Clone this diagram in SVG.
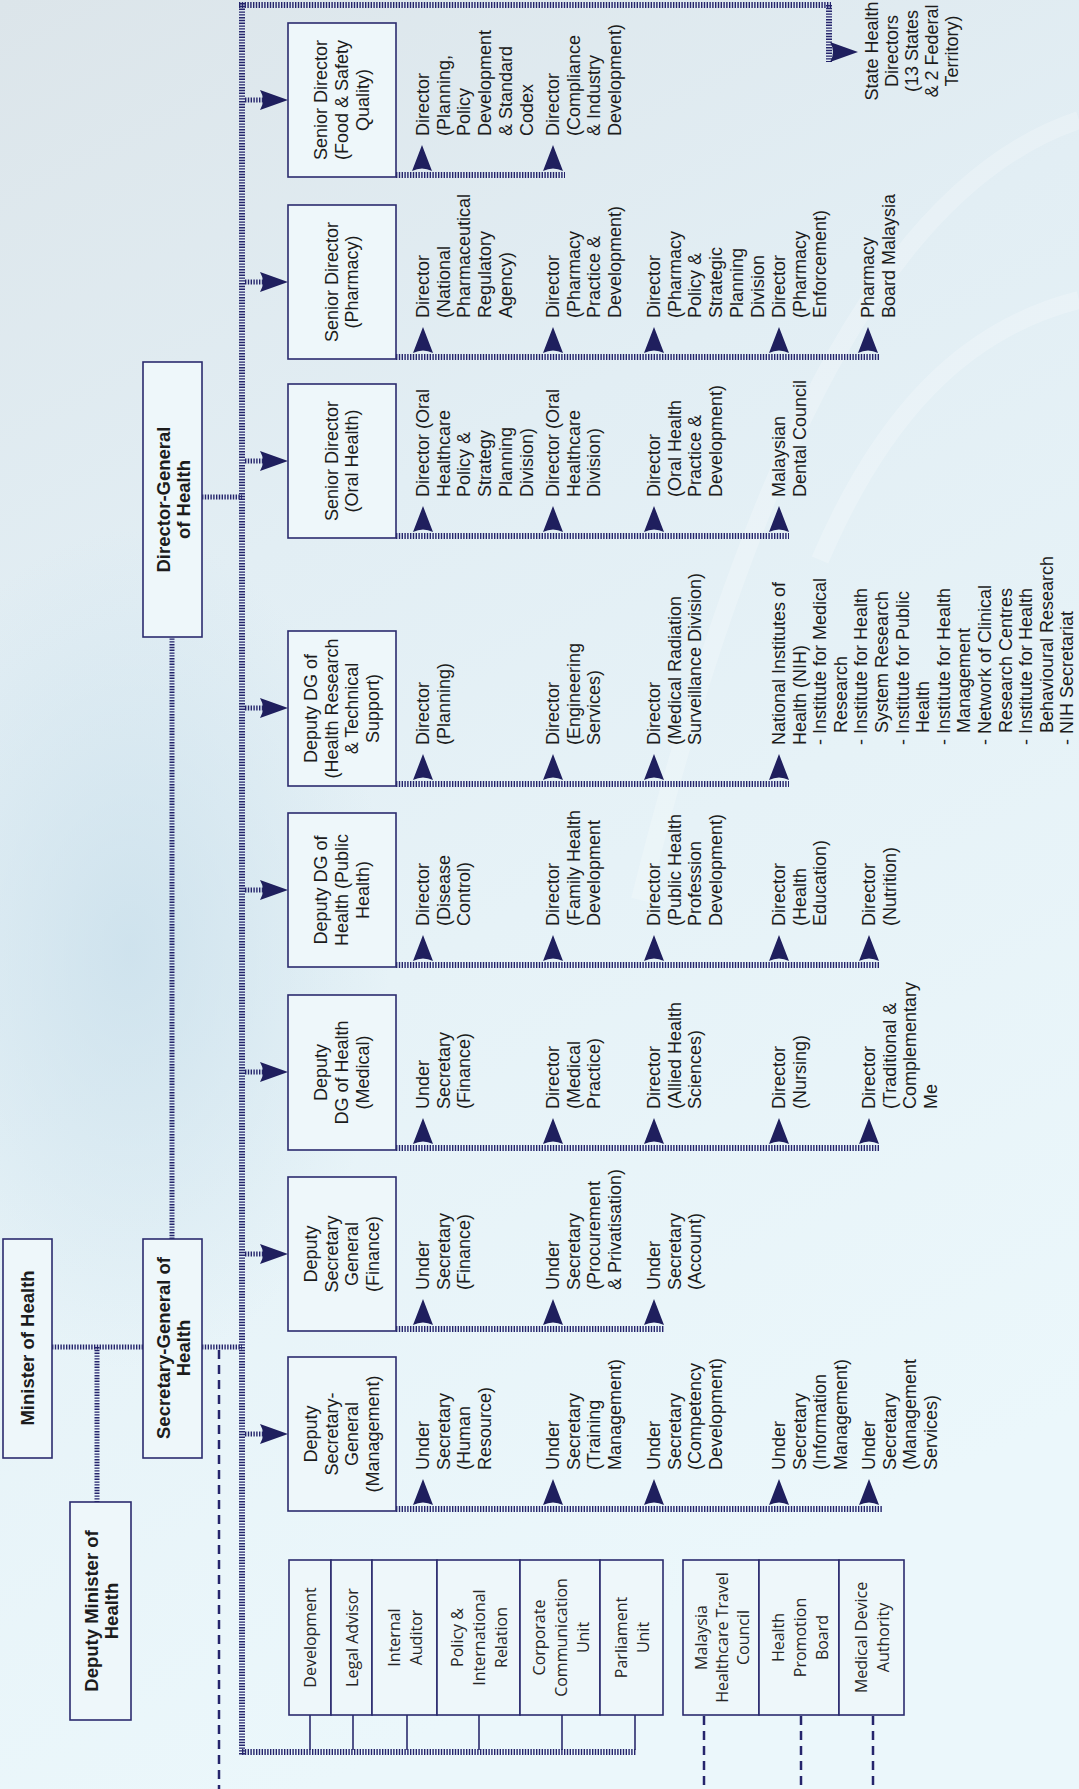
<svg xmlns="http://www.w3.org/2000/svg" width="1079" height="1789" viewBox="0 0 1079 1789">
<defs>
<linearGradient id="bg" x1="0" y1="0" x2="0.3" y2="1">
<stop offset="0" stop-color="#dce5ea"/>
<stop offset="0.35" stop-color="#e2eef4"/>
<stop offset="0.6" stop-color="#e6f2f7"/>
<stop offset="1" stop-color="#ebf7fb"/>
</linearGradient>
<radialGradient id="blu" cx="0.5" cy="0.5" r="0.5">
<stop offset="0" stop-color="#c9dfeb" stop-opacity="0.8"/>
<stop offset="1" stop-color="#c9dfeb" stop-opacity="0"/>
</radialGradient>
<path id="au" fill="#1f1f5e" d="M0,-30 L10,-4 Q0,-9 -10,-4 Z"/>
<path id="ar" fill="#1f1f5e" d="M0,0 L-28,-10 Q-22,0 -28,10 Z"/>
</defs>
<style>
.hb{stroke:#25256c;stroke-width:6;stroke-dasharray:1.4 1.4;fill:none}
.hs{stroke:#25256c;stroke-width:5;stroke-dasharray:1.4 1.4;fill:none}
.box{fill:#eef7fa;stroke:#2b2b6e;stroke-width:1.6}
.thin{stroke:#2b2b6e;stroke-width:1.6;fill:none}
.dash{stroke:#25256c;stroke-width:2.5;stroke-dasharray:9 6;fill:none}
.t{font-family:"Liberation Sans",Arial,sans-serif;font-size:18px;fill:#1c1c1c;dominant-baseline:central}
.b{font-weight:bold;font-size:18.5px}
.m{text-anchor:middle}
.o{font-family:"Open Sans","Liberation Sans",sans-serif;font-size:16px;fill:#262626;dominant-baseline:central;text-anchor:middle}
</style>
<rect x="0" y="0" width="1079" height="1789" fill="url(#bg)"/>
<ellipse cx="130" cy="950" rx="260" ry="420" fill="url(#blu)"/>
<g fill="none" stroke="#ffffff" stroke-opacity="0.22" stroke-width="18">
<path d="M1079,120 C900,180 760,420 640,900"/>
<path d="M1079,300 C960,330 880,420 820,560"/>
</g>

<g id="connectors">
<line class="hs" x1="52" y1="1347" x2="143" y2="1347"/>
<line class="hs" x1="97" y1="1347" x2="97" y2="1502"/>
<line class="hs" x1="202" y1="1347" x2="242" y2="1347"/>
<line class="hs" x1="172" y1="1239" x2="172" y2="637"/>
<line class="hs" x1="202" y1="497" x2="242" y2="497"/>
<line class="hb" x1="242" y1="3" x2="242" y2="1755"/>
<line class="hb" x1="239" y1="5" x2="831" y2="5"/>
<line class="hb" x1="829" y1="5" x2="829" y2="62"/>
<use href="#ar" x="858" y="52"/>
<line class="hb" x1="242" y1="1752" x2="636" y2="1752"/>
<line class="dash" x1="219" y1="1350" x2="219" y2="1789"/>
<line class="dash" x1="704" y1="1716" x2="704" y2="1789"/>
<line class="dash" x1="801" y1="1716" x2="801" y2="1789"/>
<line class="dash" x1="873" y1="1716" x2="873" y2="1789"/>
<g class="thin">
<line x1="310" y1="1715" x2="310" y2="1750"/>
<line x1="353" y1="1715" x2="353" y2="1750"/>
<line x1="407" y1="1715" x2="407" y2="1750"/>
<line x1="479" y1="1715" x2="479" y2="1750"/>
<line x1="562" y1="1715" x2="562" y2="1750"/>
<line x1="635" y1="1715" x2="635" y2="1750"/>
</g>
<g class="hs">
<line x1="245" y1="100" x2="265" y2="100"/>
<line x1="245" y1="282" x2="265" y2="282"/>
<line x1="245" y1="461" x2="265" y2="461"/>
<line x1="245" y1="708" x2="265" y2="708"/>
<line x1="245" y1="890" x2="265" y2="890"/>
<line x1="245" y1="1072" x2="265" y2="1072"/>
<line x1="245" y1="1254" x2="265" y2="1254"/>
<line x1="245" y1="1434" x2="265" y2="1434"/>
</g>
<use href="#ar" x="288" y="100"/>
<use href="#ar" x="288" y="282"/>
<use href="#ar" x="288" y="461"/>
<use href="#ar" x="288" y="708"/>
<use href="#ar" x="288" y="890"/>
<use href="#ar" x="288" y="1072"/>
<use href="#ar" x="288" y="1254"/>
<use href="#ar" x="288" y="1434"/>
<line class="hb" x1="396" y1="175" x2="565" y2="175"/>
<line class="hb" x1="396" y1="357" x2="880" y2="357"/>
<line class="hb" x1="396" y1="536" x2="789" y2="536"/>
<line class="hb" x1="396" y1="784" x2="789" y2="784"/>
<line class="hb" x1="396" y1="965" x2="880" y2="965"/>
<line class="hb" x1="396" y1="1148" x2="880" y2="1148"/>
<line class="hb" x1="396" y1="1329" x2="664" y2="1329"/>
<line class="hb" x1="396" y1="1509" x2="882" y2="1509"/>
<use href="#au" x="422" y="175"/><use href="#au" x="553" y="175"/>
<use href="#au" x="423" y="357"/><use href="#au" x="553" y="357"/><use href="#au" x="654" y="357"/><use href="#au" x="779" y="357"/><use href="#au" x="868" y="357"/>
<use href="#au" x="423" y="536"/><use href="#au" x="553" y="536"/><use href="#au" x="654" y="536"/><use href="#au" x="779" y="536"/>
<use href="#au" x="423" y="784"/><use href="#au" x="553" y="784"/><use href="#au" x="654" y="784"/><use href="#au" x="779" y="784"/>
<use href="#au" x="423" y="965"/><use href="#au" x="553" y="965"/><use href="#au" x="654" y="965"/><use href="#au" x="779" y="965"/><use href="#au" x="869" y="965"/>
<use href="#au" x="423" y="1148"/><use href="#au" x="553" y="1148"/><use href="#au" x="654" y="1148"/><use href="#au" x="779" y="1148"/><use href="#au" x="869" y="1148"/>
<use href="#au" x="423" y="1329"/><use href="#au" x="553" y="1329"/><use href="#au" x="654" y="1329"/>
<use href="#au" x="423" y="1509"/><use href="#au" x="553" y="1509"/><use href="#au" x="654" y="1509"/><use href="#au" x="779" y="1509"/><use href="#au" x="869" y="1509"/>
</g>

<g id="minister">
<rect class="box" x="3" y="1239" width="49" height="219"/>
<text class="t b m" transform="translate(27.5,1348) rotate(-90)">Minister of Health</text>
</g>
<g id="deputy-minister">
<rect class="box" x="70" y="1502" width="61" height="218"/>
<text class="t b m" transform="translate(100.5,1611) rotate(-90)"><tspan x="0" y="-10">Deputy Minister of</tspan><tspan x="0" y="10">Health</tspan></text>
</g>
<g id="secretary-general">
<rect class="box" x="143" y="1239" width="59" height="219"/>
<text class="t b m" transform="translate(172.5,1348) rotate(-90)"><tspan x="0" y="-10">Secretary-General of</tspan><tspan x="0" y="10">Health</tspan></text>
</g>
<g id="director-general">
<rect class="box" x="143" y="362" width="59" height="275"/>
<text class="t b m" transform="translate(172.5,499.5) rotate(-90)"><tspan x="0" y="-10">Director-General</tspan><tspan x="0" y="10">of Health</tspan></text>
</g>
<g id="state-health">
<text class="t m" transform="translate(912,51) rotate(-90)"><tspan x="0" y="-40.4">State Health</tspan><tspan x="0" y="-20.2">Directors</tspan><tspan x="0" y="0">(13 States</tspan><tspan x="0" y="20.2">&amp; 2 Federal</tspan><tspan x="0" y="40.4">Territory)</tspan></text>
</g>

<g id="sd-food">
<rect class="box" x="288" y="23" width="108" height="154"/>
<text class="t m" transform="translate(342,100) rotate(-90)"><tspan x="0" y="-20.7">Senior Director</tspan><tspan x="0" y="0">(Food &amp; Safety</tspan><tspan x="0" y="20.7">Quality)</tspan></text>
</g>
<g id="sd-pharmacy">
<rect class="box" x="288" y="205" width="108" height="154"/>
<text class="t m" transform="translate(342,282) rotate(-90)"><tspan x="0" y="-10.35">Senior Director</tspan><tspan x="0" y="10.35">(Pharmacy)</tspan></text>
</g>
<g id="sd-oral">
<rect class="box" x="288" y="384" width="108" height="154"/>
<text class="t m" transform="translate(342,461) rotate(-90)"><tspan x="0" y="-10.35">Senior Director</tspan><tspan x="0" y="10.35">(Oral Health)</tspan></text>
</g>
<g id="ddg-research">
<rect class="box" x="288" y="631" width="108" height="155"/>
<text class="t m" transform="translate(342,708.5) rotate(-90)"><tspan x="0" y="-31">Deputy DG of</tspan><tspan x="0" y="-10.35">(Health Research</tspan><tspan x="0" y="10.35">&amp; Technical</tspan><tspan x="0" y="31">Support)</tspan></text>
</g>
<g id="ddg-public">
<rect class="box" x="288" y="813" width="108" height="154"/>
<text class="t m" transform="translate(342,890) rotate(-90)"><tspan x="0" y="-20.7">Deputy DG of</tspan><tspan x="0" y="0">Health (Public</tspan><tspan x="0" y="20.7">Health)</tspan></text>
</g>
<g id="ddg-medical">
<rect class="box" x="288" y="995" width="108" height="155"/>
<text class="t m" transform="translate(342,1072.5) rotate(-90)"><tspan x="0" y="-20.7">Deputy</tspan><tspan x="0" y="0">DG of Health</tspan><tspan x="0" y="20.7">(Medical)</tspan></text>
</g>
<g id="dsg-finance">
<rect class="box" x="288" y="1177" width="108" height="154"/>
<text class="t m" transform="translate(342,1254) rotate(-90)"><tspan x="0" y="-31">Deputy</tspan><tspan x="0" y="-10.35">Secretary</tspan><tspan x="0" y="10.35">General</tspan><tspan x="0" y="31">(Finance)</tspan></text>
</g>
<g id="dsg-management">
<rect class="box" x="288" y="1357" width="108" height="154"/>
<text class="t m" transform="translate(342,1434) rotate(-90)"><tspan x="0" y="-31">Deputy</tspan><tspan x="0" y="-10.35">Secretary-</tspan><tspan x="0" y="10.35">General</tspan><tspan x="0" y="31">(Management)</tspan></text>
</g>

<g id="food-items">
<text class="t" transform="translate(423,136) rotate(-90)"><tspan x="0" y="0">Director</tspan><tspan x="0" y="20.7">(Planning,</tspan><tspan x="0" y="41.4">Policy</tspan><tspan x="0" y="62.1">Development</tspan><tspan x="0" y="82.8">&amp; Standard</tspan><tspan x="0" y="103.5">Codex</tspan></text>
<text class="t" transform="translate(553,136) rotate(-90)"><tspan x="0" y="0">Director</tspan><tspan x="0" y="20.7">(Compliance</tspan><tspan x="0" y="41.4">&amp; Industry</tspan><tspan x="0" y="62.1">Development)</tspan></text>
</g>
<g id="pharmacy-items">
<text class="t" transform="translate(423,318) rotate(-90)"><tspan x="0" y="0">Director</tspan><tspan x="0" y="20.7">(National</tspan><tspan x="0" y="41.4">Pharmaceutical</tspan><tspan x="0" y="62.1">Regulatory</tspan><tspan x="0" y="82.8">Agency)</tspan></text>
<text class="t" transform="translate(553,318) rotate(-90)"><tspan x="0" y="0">Director</tspan><tspan x="0" y="20.7">(Pharmacy</tspan><tspan x="0" y="41.4">Practice &amp;</tspan><tspan x="0" y="62.1">Development)</tspan></text>
<text class="t" transform="translate(654,318) rotate(-90)"><tspan x="0" y="0">Director</tspan><tspan x="0" y="20.7">(Pharmacy</tspan><tspan x="0" y="41.4">Policy &amp;</tspan><tspan x="0" y="62.1">Strategic</tspan><tspan x="0" y="82.8">Planning</tspan><tspan x="0" y="103.5">Division</tspan></text>
<text class="t" transform="translate(779,318) rotate(-90)"><tspan x="0" y="0">Director</tspan><tspan x="0" y="20.7">(Pharmacy</tspan><tspan x="0" y="41.4">Enforcement)</tspan></text>
<text class="t" transform="translate(868,318) rotate(-90)"><tspan x="0" y="0">Pharmacy</tspan><tspan x="0" y="20.7">Board Malaysia</tspan></text>
</g>
<g id="oral-items">
<text class="t" transform="translate(423,497) rotate(-90)"><tspan x="0" y="0">Director (Oral</tspan><tspan x="0" y="20.7">Healthcare</tspan><tspan x="0" y="41.4">Policy &amp;</tspan><tspan x="0" y="62.1">Strategy</tspan><tspan x="0" y="82.8">Planning</tspan><tspan x="0" y="103.5">Division)</tspan></text>
<text class="t" transform="translate(553,497) rotate(-90)"><tspan x="0" y="0">Director (Oral</tspan><tspan x="0" y="20.7">Healthcare</tspan><tspan x="0" y="41.4">Division)</tspan></text>
<text class="t" transform="translate(654,497) rotate(-90)"><tspan x="0" y="0">Director</tspan><tspan x="0" y="20.7">(Oral Health</tspan><tspan x="0" y="41.4">Practice &amp;</tspan><tspan x="0" y="62.1">Development)</tspan></text>
<text class="t" transform="translate(779,497) rotate(-90)"><tspan x="0" y="0">Malaysian</tspan><tspan x="0" y="20.7">Dental Council</tspan></text>
</g>
<g id="research-items">
<text class="t" transform="translate(423,745) rotate(-90)"><tspan x="0" y="0">Director</tspan><tspan x="0" y="20.7">(Planning)</tspan></text>
<text class="t" transform="translate(553,745) rotate(-90)"><tspan x="0" y="0">Director</tspan><tspan x="0" y="20.7">(Engineering</tspan><tspan x="0" y="41.4">Services)</tspan></text>
<text class="t" transform="translate(654,745) rotate(-90)"><tspan x="0" y="0">Director</tspan><tspan x="0" y="20.7">(Medical Radiation</tspan><tspan x="0" y="41.4">Surveillance Division)</tspan></text>
<text class="t" transform="translate(779,745) rotate(-90)"><tspan x="0" y="0">National Institutes of</tspan><tspan x="0" y="20.6">Health (NIH)</tspan><tspan x="0" y="41.2">- Institute for Medical</tspan><tspan x="12" y="61.8">Research</tspan><tspan x="0" y="82.4">- Institute for Health</tspan><tspan x="12" y="103">System Research</tspan><tspan x="0" y="123.6">- Institute for Public</tspan><tspan x="12" y="144.2">Health</tspan><tspan x="0" y="164.8">- Institute for Health</tspan><tspan x="12" y="185.4">Management</tspan><tspan x="0" y="206">- Network of Clinical</tspan><tspan x="12" y="226.6">Research Centres</tspan><tspan x="0" y="247.2">- Institute for Health</tspan><tspan x="12" y="267.8">Behavioural Research</tspan><tspan x="0" y="288.4">- NIH Secretariat</tspan></text>
</g>
<g id="public-items">
<text class="t" transform="translate(423,926) rotate(-90)"><tspan x="0" y="0">Director</tspan><tspan x="0" y="20.7">(Disease</tspan><tspan x="0" y="41.4">Control)</tspan></text>
<text class="t" transform="translate(553,926) rotate(-90)"><tspan x="0" y="0">Director</tspan><tspan x="0" y="20.7">(Family Health</tspan><tspan x="0" y="41.4">Development</tspan></text>
<text class="t" transform="translate(654,926) rotate(-90)"><tspan x="0" y="0">Director</tspan><tspan x="0" y="20.7">(Public Health</tspan><tspan x="0" y="41.4">Profession</tspan><tspan x="0" y="62.1">Development)</tspan></text>
<text class="t" transform="translate(779,926) rotate(-90)"><tspan x="0" y="0">Director</tspan><tspan x="0" y="20.7">(Health</tspan><tspan x="0" y="41.4">Education)</tspan></text>
<text class="t" transform="translate(869,926) rotate(-90)"><tspan x="0" y="0">Director</tspan><tspan x="0" y="20.7">(Nutrition)</tspan></text>
</g>
<g id="medical-items">
<text class="t" transform="translate(423,1109) rotate(-90)"><tspan x="0" y="0">Under</tspan><tspan x="0" y="20.7">Secretary</tspan><tspan x="0" y="41.4">(Finance)</tspan></text>
<text class="t" transform="translate(553,1109) rotate(-90)"><tspan x="0" y="0">Director</tspan><tspan x="0" y="20.7">(Medical</tspan><tspan x="0" y="41.4">Practice)</tspan></text>
<text class="t" transform="translate(654,1109) rotate(-90)"><tspan x="0" y="0">Director</tspan><tspan x="0" y="20.7">(Allied Health</tspan><tspan x="0" y="41.4">Sciences)</tspan></text>
<text class="t" transform="translate(779,1109) rotate(-90)"><tspan x="0" y="0">Director</tspan><tspan x="0" y="20.7">(Nursing)</tspan></text>
<text class="t" transform="translate(869,1109) rotate(-90)"><tspan x="0" y="0">Director</tspan><tspan x="0" y="20.7">(Traditional &amp;</tspan><tspan x="0" y="41.4">Complementary</tspan><tspan x="0" y="62.1">Me</tspan></text>
</g>
<g id="finance-items">
<text class="t" transform="translate(423,1290) rotate(-90)"><tspan x="0" y="0">Under</tspan><tspan x="0" y="20.7">Secretary</tspan><tspan x="0" y="41.4">(Finance)</tspan></text>
<text class="t" transform="translate(553,1290) rotate(-90)"><tspan x="0" y="0">Under</tspan><tspan x="0" y="20.7">Secretary</tspan><tspan x="0" y="41.4">(Procurement</tspan><tspan x="0" y="62.1">&amp; Privatisation)</tspan></text>
<text class="t" transform="translate(654,1290) rotate(-90)"><tspan x="0" y="0">Under</tspan><tspan x="0" y="20.7">Secretary</tspan><tspan x="0" y="41.4">(Account)</tspan></text>
</g>
<g id="management-items">
<text class="t" transform="translate(423,1470) rotate(-90)"><tspan x="0" y="0">Under</tspan><tspan x="0" y="20.7">Secretary</tspan><tspan x="0" y="41.4">(Human</tspan><tspan x="0" y="62.1">Resource)</tspan></text>
<text class="t" transform="translate(553,1470) rotate(-90)"><tspan x="0" y="0">Under</tspan><tspan x="0" y="20.7">Secretary</tspan><tspan x="0" y="41.4">(Training</tspan><tspan x="0" y="62.1">Management)</tspan></text>
<text class="t" transform="translate(654,1470) rotate(-90)"><tspan x="0" y="0">Under</tspan><tspan x="0" y="20.7">Secretary</tspan><tspan x="0" y="41.4">(Competency</tspan><tspan x="0" y="62.1">Development)</tspan></text>
<text class="t" transform="translate(779,1470) rotate(-90)"><tspan x="0" y="0">Under</tspan><tspan x="0" y="20.7">Secretary</tspan><tspan x="0" y="41.4">(Information</tspan><tspan x="0" y="62.1">Management)</tspan></text>
<text class="t" transform="translate(869,1470) rotate(-90)"><tspan x="0" y="0">Under</tspan><tspan x="0" y="20.7">Secretary</tspan><tspan x="0" y="41.4">(Management</tspan><tspan x="0" y="62.1">Services)</tspan></text>
</g>

<g id="unit-development"><rect class="box" x="289" y="1560" width="42" height="155"/><text class="o" transform="translate(310,1637.5) rotate(-90)">Development</text></g>
<g id="unit-legal"><rect class="box" x="331" y="1560" width="41" height="155"/><text class="o" transform="translate(351.5,1637.5) rotate(-90)">Legal Advisor</text></g>
<g id="unit-auditor"><rect class="box" x="372" y="1560" width="65" height="155"/><text class="o" transform="translate(404.5,1637.5) rotate(-90)"><tspan x="0" y="-11">Internal</tspan><tspan x="0" y="11">Auditor</tspan></text></g>
<g id="unit-policy"><rect class="box" x="437" y="1560" width="83" height="155"/><text class="o" transform="translate(478.5,1637.5) rotate(-90)"><tspan x="0" y="-22">Policy &amp;</tspan><tspan x="0" y="0">International</tspan><tspan x="0" y="22">Relation</tspan></text></g>
<g id="unit-corporate"><rect class="box" x="520" y="1560" width="80" height="155"/><text class="o" transform="translate(561,1637.5) rotate(-90)"><tspan x="0" y="-22">Corporate</tspan><tspan x="0" y="0">Communication</tspan><tspan x="0" y="22">Unit</tspan></text></g>
<g id="unit-parliament"><rect class="box" x="600" y="1560" width="63" height="155"/><text class="o" transform="translate(631.5,1637.5) rotate(-90)"><tspan x="0" y="-11">Parliament</tspan><tspan x="0" y="11">Unit</tspan></text></g>
<g id="unit-travel"><rect class="box" x="683" y="1560" width="76" height="155"/><text class="o" transform="translate(722,1637.5) rotate(-90)"><tspan x="0" y="-21">Malaysia</tspan><tspan x="0" y="0">Healthcare Travel</tspan><tspan x="0" y="21">Council</tspan></text></g>
<g id="unit-promotion"><rect class="box" x="759" y="1560" width="80" height="155"/><text class="o" transform="translate(800,1637.5) rotate(-90)"><tspan x="0" y="-22">Health</tspan><tspan x="0" y="0">Promotion</tspan><tspan x="0" y="22">Board</tspan></text></g>
<g id="unit-device"><rect class="box" x="839" y="1560" width="65" height="155"/><text class="o" transform="translate(872,1637.5) rotate(-90)"><tspan x="0" y="-11">Medical Device</tspan><tspan x="0" y="11">Authority</tspan></text></g>
</svg>
